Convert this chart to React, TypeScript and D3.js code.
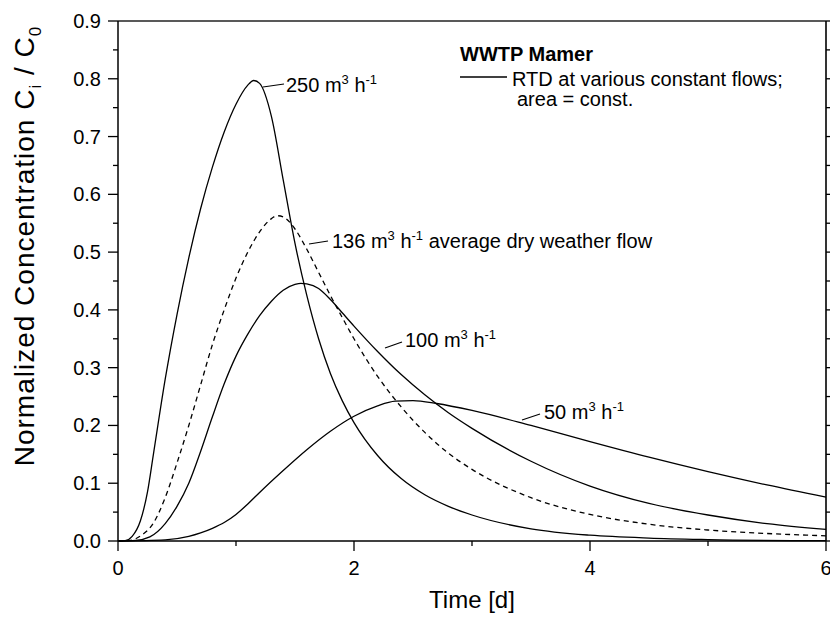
import React from "react";
import * as d3 from "d3";

// Time [d] samples and normalized concentration values
const t250 = [0, 0.06, 0.12, 0.19, 0.25, 0.3, 0.4, 0.5, 0.6, 0.7, 0.8, 0.9, 1.0, 1.1, 1.15, 1.2, 1.3, 1.4, 1.5, 1.6, 1.7, 1.8, 1.9, 2.0, 2.2, 2.4, 2.6, 2.8, 3.0, 3.5, 4.0, 4.5, 5.0, 6.0];
const c250 = [0, 0.0005, 0.008, 0.035, 0.085, 0.15, 0.28, 0.392, 0.49, 0.575, 0.647, 0.708, 0.756, 0.789, 0.797, 0.792, 0.735, 0.625, 0.515, 0.425, 0.35, 0.29, 0.243, 0.205, 0.148, 0.108, 0.08, 0.06, 0.045, 0.021, 0.01, 0.005, 0.0025, 0.0005];

const t136 = [0, 0.1, 0.2, 0.3, 0.4, 0.5, 0.6, 0.7, 0.8, 0.9, 1.0, 1.1, 1.2, 1.3, 1.35, 1.4, 1.5, 1.6, 1.7, 1.8, 1.9, 2.0, 2.2, 2.4, 2.6, 2.8, 3.0, 3.5, 4.0, 4.5, 5.0, 5.5, 6.0];
const c136 = [0, 0.001, 0.01, 0.031, 0.075, 0.135, 0.2, 0.27, 0.34, 0.4, 0.455, 0.5, 0.535, 0.558, 0.563, 0.561, 0.54, 0.505, 0.465, 0.425, 0.387, 0.35, 0.285, 0.232, 0.188, 0.152, 0.124, 0.075, 0.046, 0.029, 0.019, 0.013, 0.009];

const t100 = [0, 0.15, 0.27, 0.4, 0.5, 0.6, 0.7, 0.8, 0.9, 1.0, 1.1, 1.2, 1.3, 1.4, 1.5, 1.55, 1.6, 1.7, 1.8, 1.9, 2.0, 2.2, 2.4, 2.6, 2.8, 3.0, 3.5, 4.0, 4.5, 5.0, 5.5, 6.0];
const c100 = [0, 0.001, 0.007, 0.03, 0.06, 0.1, 0.155, 0.215, 0.272, 0.32, 0.358, 0.39, 0.415, 0.434, 0.444, 0.446, 0.445, 0.437, 0.418, 0.395, 0.372, 0.328, 0.288, 0.253, 0.222, 0.195, 0.138, 0.095, 0.065, 0.045, 0.03, 0.02];

const t50 = [0, 0.4, 0.6, 0.7, 0.8, 0.9, 1.0, 1.1, 1.2, 1.4, 1.6, 1.8, 2.0, 2.2, 2.35, 2.5, 2.7, 3.0, 3.5, 4.0, 4.5, 5.0, 5.5, 6.0];
const c50 = [0, 0.002, 0.008, 0.014, 0.022, 0.032, 0.046, 0.064, 0.084, 0.122, 0.158, 0.19, 0.216, 0.234, 0.242, 0.243, 0.238, 0.226, 0.2, 0.172, 0.145, 0.12, 0.097, 0.076];

const yMajorTicks = [0, 0.1, 0.2, 0.3, 0.4, 0.5, 0.6, 0.7, 0.8, 0.9];
const yMinorTicks = [0.05, 0.15, 0.25, 0.35, 0.45, 0.55, 0.65, 0.75, 0.85];
const xMajorTicks = [0, 2, 4, 6];
const xMinorTicks = [1, 3, 5];

const FONT = "'Liberation Sans', Arial, sans-serif";

export default function App() {
  const x = d3.scaleLinear().domain([0, 6]).range([118, 826]);
  const y = d3.scaleLinear().domain([0, 0.9]).range([541, 21]);
  const line = d3
    .line<[number, number]>()
    .x((d) => x(d[0]))
    .y((d) => y(d[1]))
    .curve(d3.curveMonotoneX);

  const series = [
    { t: t250, c: c250, dash: undefined },
    { t: t136, c: c136, dash: "5,4" },
    { t: t100, c: c100, dash: undefined },
    { t: t50, c: c50, dash: undefined },
  ];

  const sup = (s: string) => (
    <tspan dy={-8} fontSize={13}>
      {s}
    </tspan>
  );
  const flowLabel = (n: string, xx: number, yy: number, extra?: string) => (
    <text x={xx} y={yy} fontSize={20} fontFamily={FONT}>
      {n} m{sup("3")}
      <tspan dy={8}> h</tspan>
      {sup("-1")}
      {extra ? <tspan dy={8}>{extra}</tspan> : null}
    </text>
  );

  return (
    <svg
      width={830}
      height={620}
      style={{ position: "absolute", left: 0, top: 0, background: "#fff" }}
    >
      <rect x={0} y={0} width={830} height={620} fill="#fff" />
      {/* curves */}
      {series.map((s, i) => (
        <path
          key={i}
          d={line(s.t.map((tt, j) => [tt, s.c[j]] as [number, number])) || ""}
          fill="none"
          stroke="#000"
          strokeWidth={1.3}
          strokeDasharray={s.dash}
        />
      ))}
      {/* frame */}
      <line x1={118} x2={826} y1={21} y2={21} stroke="#222" strokeWidth={1.3} />
      <line x1={826} x2={826} y1={21} y2={541} stroke="#000" strokeWidth={1.6} />
      <line x1={118} x2={118} y1={21} y2={541} stroke="#000" strokeWidth={1.5} />
      <line x1={118} x2={826} y1={541} y2={541} stroke="#000" strokeWidth={1.5} />
      {/* left and right ticks */}
      {yMajorTicks.map((v) => (
        <g key={"ly" + v}>
          <line x1={108} x2={118} y1={y(v)} y2={y(v)} stroke="#000" strokeWidth={1.3} />
          <line x1={826} x2={836} y1={y(v)} y2={y(v)} stroke="#000" strokeWidth={1.3} />
          <text
            x={101}
            y={y(v) + 7}
            textAnchor="end"
            fontSize={20}
            fontFamily={FONT}
          >
            {d3.format(".1f")(v)}
          </text>
        </g>
      ))}
      {yMinorTicks.map((v) => (
        <g key={"my" + v}>
          <line x1={113} x2={118} y1={y(v)} y2={y(v)} stroke="#000" strokeWidth={1.3} />
          <line x1={826} x2={831} y1={y(v)} y2={y(v)} stroke="#000" strokeWidth={1.3} />
        </g>
      ))}
      {/* bottom ticks */}
      {xMajorTicks.map((v) => (
        <g key={"bx" + v}>
          <line x1={x(v)} x2={x(v)} y1={541} y2={551} stroke="#000" strokeWidth={1.3} />
          <text
            x={x(v)}
            y={575}
            textAnchor="middle"
            fontSize={20}
            fontFamily={FONT}
          >
            {v}
          </text>
        </g>
      ))}
      {xMinorTicks.map((v) => (
        <line key={"mx" + v} x1={x(v)} x2={x(v)} y1={541} y2={546} stroke="#000" strokeWidth={1.3} />
      ))}
      {/* axis titles */}
      <text x={472} y={608} textAnchor="middle" fontSize={24} fontFamily={FONT}>
        Time [d]
      </text>
      <text
        transform="translate(34,246) rotate(-90)"
        textAnchor="middle"
        fontSize={28}
        letterSpacing={1}
        fontFamily={FONT}
      >
        Normalized Concentration C
        <tspan dy={7} fontSize={17}>i</tspan>
        <tspan dy={-7}> / C</tspan>
        <tspan dy={7} fontSize={17}>0</tspan>
      </text>
      {/* legend */}
      <text x={460} y={61} fontSize={20} fontWeight="bold" fontFamily={FONT}>
        WWTP Mamer
      </text>
      <line x1={460} x2={507} y1={77} y2={77} stroke="#000" strokeWidth={1.3} />
      <text x={512} y={86} fontSize={20} fontFamily={FONT}>
        RTD at various constant flows;
      </text>
      <text x={517} y={106} fontSize={20} fontFamily={FONT}>
        area = const.
      </text>
      {/* curve labels */}
      <line x1={263} x2={284} y1={87} y2={84} stroke="#000" strokeWidth={1.2} />
      {flowLabel("250", 286, 92)}
      <line x1={309} x2={328} y1={244} y2={241} stroke="#000" strokeWidth={1.2} />
      {flowLabel("136", 332, 248, " average dry weather flow")}
      <line x1={385} x2={402} y1={348} y2={342} stroke="#000" strokeWidth={1.2} />
      {flowLabel("100", 405, 347)}
      <line x1={522} x2={540} y1={420} y2={414} stroke="#000" strokeWidth={1.2} />
      {flowLabel("50", 544, 419)}
    </svg>
  );
}
